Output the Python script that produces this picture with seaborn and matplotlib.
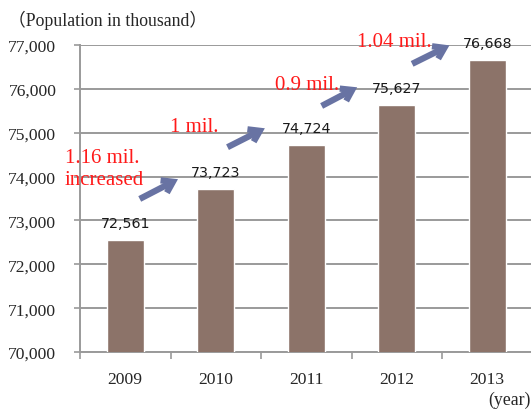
import matplotlib
matplotlib.use("Agg")
import matplotlib.pyplot as plt
import seaborn as sns
import pandas as pd
from matplotlib.ticker import FuncFormatter, FixedLocator

# Population data (thousands)
years = ["2009", "2010", "2011", "2012", "2013"]
population = [72561, 73723, 74724, 75627, 76668]
increase_labels = ["1.16 mil.\nincreased", "1 mil.", "0.9 mil.", "1.04 mil."]

# Annotation placement (category index, value) for increase notes and arrows
note_pos = [(-0.67, 74180), (0.50, 75140), (1.66, 76110), (2.56, 77070)]
arrow_tails = [(0.16, 73490), (1.13, 74670), (2.17, 75610), (3.17, 76570)]
arrow_tips = [(0.61, 73970), (1.57, 75130), (2.59, 76065), (3.61, 77020)]

BAR_COLOR = "#8C7369"
ARROW_COLOR = "#6873A3"
GRID_COLOR = "#9A9A9A"
SERIF = ["Liberation Serif", "Noto Sans CJK JP"]

sns.set_style("white")
plt.rcParams["font.family"] = SERIF

df = pd.DataFrame({"year": years, "population": population})

fig = plt.figure(figsize=(5.31, 4.10), dpi=100)
ax = fig.add_axes([80 / 531, 57 / 410, 452.5 / 531, 307 / 410])

sns.barplot(data=df, x="year", y="population", color=BAR_COLOR,
            width=0.41, saturation=1, ax=ax, zorder=3)

ax.set_ylim(70000, 77000)
ax.set_xlim(-0.5, 4.5)
ax.set_yticks(range(70000, 77001, 1000))
ax.yaxis.set_major_formatter(FuncFormatter(lambda v, p: f"{int(v):,}"))
ax.grid(axis="y", color=GRID_COLOR, linewidth=1.4, zorder=0)
ax.set_axisbelow(True)

for s in ["top", "right"]:
    ax.spines[s].set_visible(False)
for s in ["left", "bottom"]:
    ax.spines[s].set_color(GRID_COLOR)
    ax.spines[s].set_linewidth(1.4)

# Tick marks sit between categories; labels stay centered under the bars
ax.xaxis.set_minor_locator(FixedLocator([i - 0.5 for i in range(len(years) + 1)]))
ax.tick_params(axis="x", which="major", length=0, pad=14, labelsize=12.6)
ax.tick_params(axis="x", which="minor", length=5, width=1.2, color=GRID_COLOR,
               direction="out", bottom=True)
ax.tick_params(axis="y", which="major", length=4, width=1.2, color=GRID_COLOR,
               direction="out", left=True, pad=13, labelsize=12.6)
ax.set_xlabel("")
ax.set_ylabel("")

# Value labels above the bars
ax.bar_label(ax.containers[0], labels=[f"{v:,}" for v in population],
             padding=7, fontsize=10.3, family="DejaVu Sans", color="#1A1A1A")

# Increase notes in red with arrows
for (x, y), txt in zip(note_pos, increase_labels):
    ax.text(x, y, txt, color="#FF1A1A", fontsize=15, ha="left", va="center",
            linespacing=1.2, clip_on=False, zorder=5)

for (x0, y0), (x1, y1) in zip(arrow_tails, arrow_tips):
    ax.annotate("", xy=(x1, y1), xytext=(x0, y0),
                arrowprops=dict(arrowstyle="->,head_length=0.75,head_width=0.5",
                                color=ARROW_COLOR, lw=4.5, shrinkA=0, shrinkB=2,
                                capstyle="butt", joinstyle="miter"),
                annotation_clip=False, zorder=5)

fig.text(8 / 531, 1 - 20 / 410, "（Population in thousand）", fontsize=12.8,
         ha="left", va="center", family=SERIF)
fig.text(488 / 531, 1 - 400 / 410, "(year)", fontsize=12.8,
         ha="left", va="center", family=SERIF)

fig.savefig("out.png", dpi=100)
